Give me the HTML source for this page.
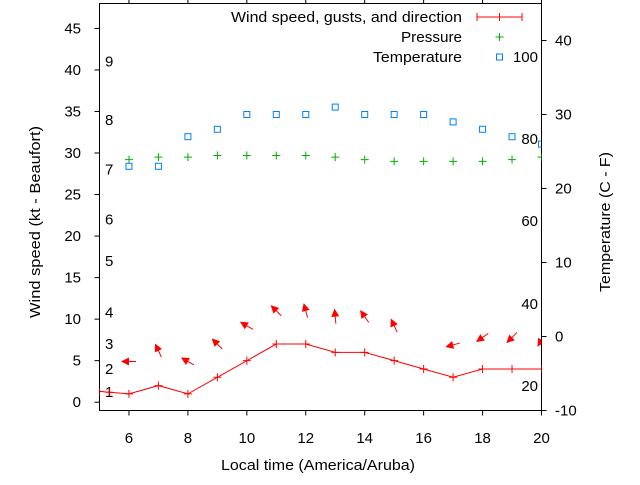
<!DOCTYPE html>
<html><head><meta charset="utf-8"><style>
body{margin:0;background:#fff}
svg{font-family:"Liberation Sans",Arial,sans-serif;font-size:15px}
</style></head><body>
<svg id="chart" width="640" height="480" xmlns="http://www.w3.org/2000/svg"></svg>
<script>
const hours=[6,7,8,9,10,11,12,13,14,15,16,17,18,19,20];
const windHours=[5,5.33,6,7,8,9,10,11,12,13,14,15,16,17,18,19,20];
const windSpeed=[1.3,1.2,1,2,1,3,5,7,7,6,6,5,4,3,4,4,4];
const arrowHours=[6,7,8,9,10,11,12,13,14,15,17,18,19,20];
const arrowY=[4.9,6.2,4.9,7,9.2,11,11,10.3,10.3,9.2,6.9,7.8,7.8,7.5];
const arrowDir=[180,115,150,135,150,135,105,95,125,115,195,215,225,240];
const pressure=[29.2,29.5,29.5,29.7,29.7,29.7,29.7,29.5,29.2,29.0,29.0,29.0,29.0,29.2,29.5];
const tempC=[23,23,27,28,30,30,30,31,30,30,30,29,28,27,26];
const xTicks=[6,8,10,12,14,16,18,20];
const yTicks=[0,5,10,15,20,25,30,35,40,45];
const y2Ticks=[-10,0,10,20,30,40];
const beaufort=[[1,1.2],[2,4],[3,7],[4,10.8],[5,17],[6,22],[7,28],[8,34],[9,41]];
const fahr=[[20,-6.7],[40,4.4],[60,15.6],[80,26.7],[100,37.8]];

const L=99.5,R=541.5,T=3.5,B=410.5;
const X=h=>L+(h-5)*(R-L)/15;
const Y=v=>B-(v+1)*(B-T)/49;
const Y2=v=>B-(v+10)*(B-T)/55;
const svg=document.getElementById('chart');
const NS='http://www.w3.org/2000/svg';
function mk(tag,attrs,parent){const e=document.createElementNS(NS,tag);for(const k in attrs)e.setAttribute(k,attrs[k]);(parent||svg).appendChild(e);return e;}
function txt(s,x,y,anchor,name,len){const t=mk('text',{x:x,y:y,'text-anchor':anchor||'start',fill:'#000'});t.textContent=s;
if(len){t.setAttribute('textLength',len);t.setAttribute('lengthAdjust','spacingAndGlyphs');}


return t;}

const defs=mk('defs',{});const cp=mk('clipPath',{id:'clip'},defs);mk('rect',{x:L,y:T,width:R-L,height:B-T},cp);

const frame=mk('rect',{x:L,y:T,width:R-L,height:B-T,fill:'none',stroke:'#000','stroke-width':1});



xTicks.forEach(h=>{const x=X(h);
 const t=mk('path',{d:`M${x} ${B}V${B+5}M${x} ${T}V${T-4}`,stroke:'#000'});
 
 
 txt(String(h),x,443,'middle','x-tick-label');});
yTicks.forEach(v=>{const y=Y(v);
 const t=mk('path',{d:`M${L} ${y}H${L-5}`,stroke:'#000'});
 
 
 txt(String(v),81,y+5,'end','y-tick-label');});
y2Ticks.forEach(v=>{const y=Y2(v);
 const t=mk('path',{d:`M${R} ${y}H${R+5}`,stroke:'#000'});
 
 
 txt(String(v),555,y+5,'start','y2-tick-label');});
beaufort.forEach(b=>txt(String(b[0]),105,Y(b[1])+5,'start','beaufort-label'));
fahr.forEach(f=>txt(String(f[0]),538,Y2(f[1])+5,'end','fahrenheit-label'));

const g=mk('g',{'clip-path':'url(#clip)'});



const wl=mk('polyline',{points:windHours.map((h,i)=>X(h)+','+Y(windSpeed[i])).join(' '),fill:'none',stroke:'#ff0000','stroke-width':1},g);


windHours.forEach((h,i)=>{const x=X(h),y=Y(windSpeed[i]);
 const p=mk('path',{d:`M${x-4} ${y}H${x+4}M${x} ${y-4}V${y+4}`,stroke:'#ff0000'},g);
 
 });
arrowHours.forEach((h,i)=>{const cx=X(h),cy=Y(arrowY[i]);const a=arrowDir[i]*Math.PI/180;
 const dx=Math.cos(a),dy=-Math.sin(a),len=14;
 const x1=cx-dx*len/2,y1=cy-dy*len/2,x2=cx+dx*len/2,y2=cy+dy*len/2;
 const px=-dy,py=dx;
 const ar=mk('g',{},g);
 
 
 mk('line',{x1:x1,y1:y1,x2:x2,y2:y2,stroke:'#ff0000'},ar);
 mk('polygon',{points:`${x2+dx},${y2+dy} ${x2-dx*7+px*4},${y2-dy*7+py*4} ${x2-dx*7-px*4},${y2-dy*7-py*4}`,fill:'#ff0000'},ar);});
hours.forEach((h,i)=>{const x=X(h),y=Y(pressure[i]);
 const p=mk('path',{d:`M${x-4} ${y}H${x+4}M${x} ${y-4}V${y+4}`,stroke:'#00b000'},g);
 
 });
hours.forEach((h,i)=>{const x=X(h),y=Y2(tempC[i]);
 const r=mk('rect',{x:x-3,y:y-3,width:6,height:6,fill:'none',stroke:'#0080ff'},g);
 
 });

const lg=mk('g',{});


txt('Wind speed, gusts, and direction',462,22,'end','legend-wind-label',231);
const ls=mk('path',{d:'M477 17H522M477 13V21M499.5 13V21M522 13V21',stroke:'#ff0000'},lg);


txt('Pressure',462,42,'end','legend-pressure-label',61);
const ps=mk('path',{d:'M495.5 37H503.5M499.5 33V41',stroke:'#00b000'},lg);


txt('Temperature',462,62,'end','legend-temperature-label',89);
const ts=mk('rect',{x:496.5,y:54,width:6,height:6,fill:'none',stroke:'#0080ff'},lg);



txt('Local time (America/Aruba)',318,470,'middle','x-axis-title',194);
const yt=txt('Wind speed (kt - Beaufort)',0,0,'middle','y-axis-title',192);
yt.setAttribute('transform','translate(40,222) rotate(-90)');
const y2t=txt('Temperature (C - F)',0,0,'middle','y2-axis-title',140);
y2t.setAttribute('transform','translate(610,222) rotate(-90)');
</script>
</body></html>
